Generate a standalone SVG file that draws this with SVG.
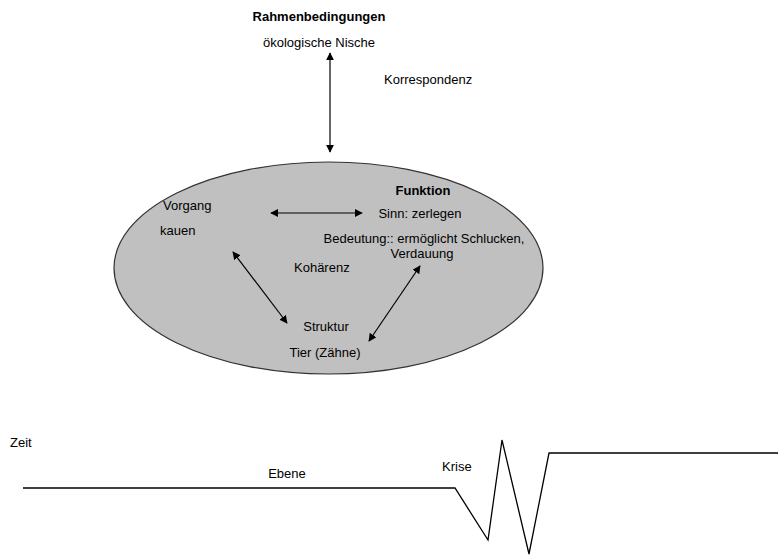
<svg xmlns="http://www.w3.org/2000/svg" width="778" height="557" viewBox="0 0 778 557">
<style>
text{font-family:"Liberation Sans",Arial,sans-serif;font-size:13px;fill:#000}
.b{font-weight:bold}
.c{stroke:#000;stroke-width:1.2;fill:none}
</style>
<defs>
<marker id="ah" viewBox="0 0 10 10" refX="9" refY="5" markerWidth="8" markerHeight="8" markerUnits="userSpaceOnUse" orient="auto-start-reverse">
<path d="M0,0 L10,5 L0,10 z" fill="#000"/>
</marker>
</defs>
<rect width="778" height="557" fill="#fff"/>
<g id="ellipse"><ellipse cx="328.5" cy="268" rx="214.5" ry="106" fill="#c0c0c0" stroke="#333" stroke-width="1.2"/></g>
<g id="rahmen"><text class="b" x="319" y="21" text-anchor="middle">Rahmenbedingungen</text><text x="319" y="47" text-anchor="middle">ökologische Nische</text></g>
<g id="korrespondenz"><text x="384" y="84">Korrespondenz</text></g>
<g id="vorgang"><text x="163" y="210">Vorgang</text><text x="160" y="235">kauen</text></g>
<g id="funktion"><text class="b" x="423" y="195" text-anchor="middle">Funktion</text><text x="420" y="218" text-anchor="middle">Sinn: zerlegen</text><text x="424" y="243" text-anchor="middle">Bedeutung:: ermöglicht Schlucken,</text><text x="422" y="258" text-anchor="middle">Verdauung</text></g>
<g id="kohaerenz"><text x="294" y="272">Kohärenz</text></g>
<g id="struktur"><text x="326" y="331" text-anchor="middle">Struktur</text><text x="325" y="357" text-anchor="middle">Tier (Zähne)</text></g>
<g id="zeit"><text x="10" y="447">Zeit</text><text x="287" y="478" text-anchor="middle">Ebene</text><text x="442" y="471">Krise</text></g>
<g id="connectors">
<line class="c" x1="330" y1="53" x2="330" y2="152" marker-start="url(#ah)" marker-end="url(#ah)"/>
<line class="c" x1="271" y1="213" x2="362" y2="213" marker-start="url(#ah)" marker-end="url(#ah)"/>
<line class="c" x1="233" y1="252" x2="287" y2="323" marker-start="url(#ah)" marker-end="url(#ah)"/>
<line class="c" x1="420" y1="266" x2="369" y2="341" marker-start="url(#ah)" marker-end="url(#ah)"/>
<polyline fill="none" stroke="#000" stroke-width="1.3" points="23,488 455,488 488,540 502,440 529,554 549,453 778,453"/>
</g>
</svg>
